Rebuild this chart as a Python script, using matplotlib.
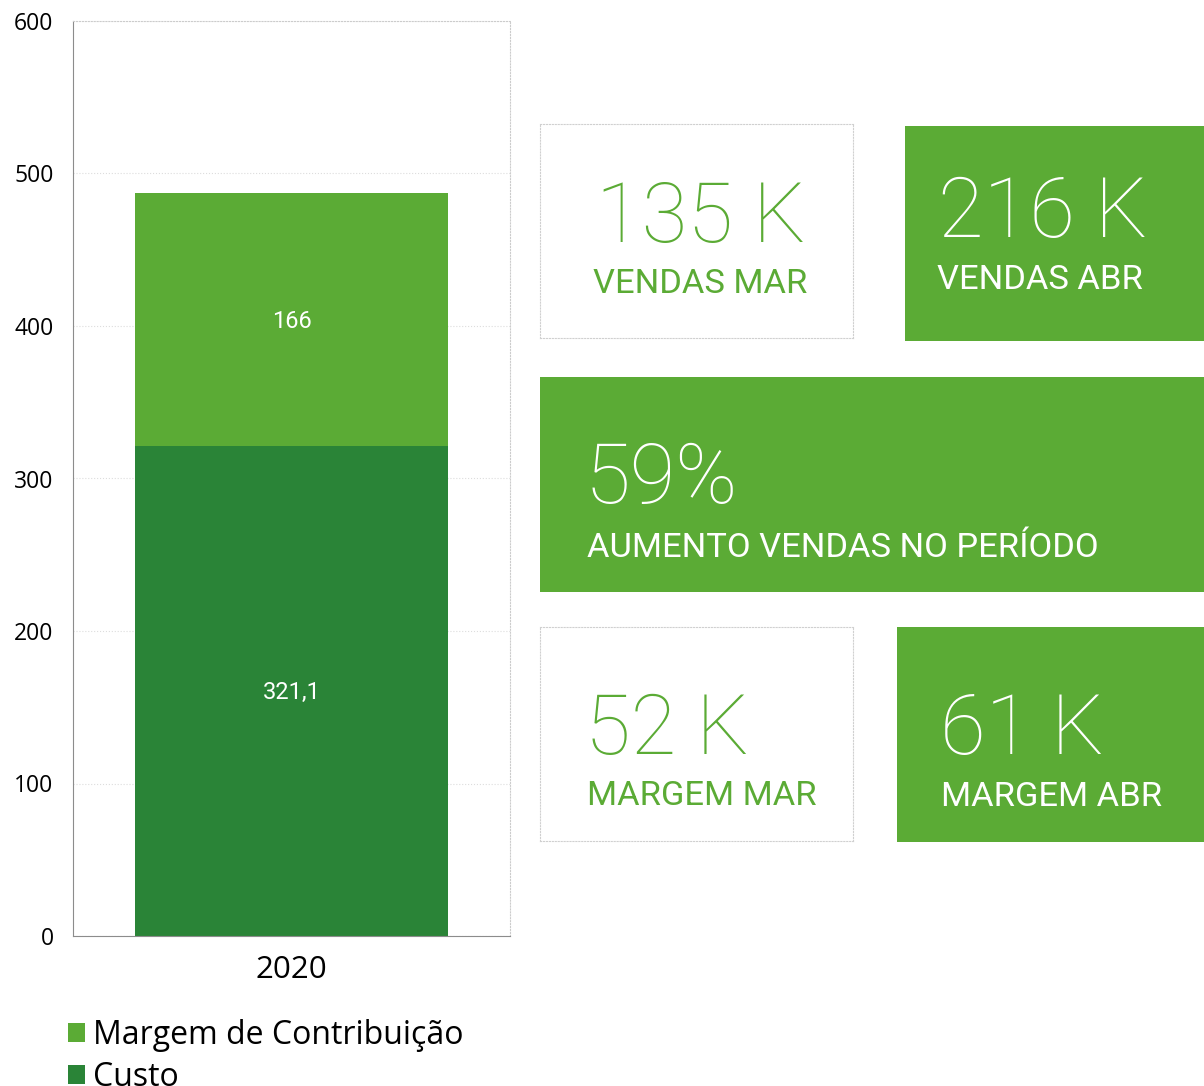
import matplotlib
matplotlib.use("Agg")
import matplotlib.pyplot as plt

# chart data
years = ["2020"]
custo = [321.1]
margem = [166]
custo_labels = ["321,1"]
margem_labels = ["166"]
yticks = [0, 100, 200, 300, 400, 500, 600]

# kpi cards
card_values = ["135 K", "216 K", "59%", "52 K", "61 K"]
card_titles = ["VENDAS MAR", "VENDAS ABR", "AUMENTO VENDAS NO PERÍODO", "MARGEM MAR", "MARGEM ABR"]

LIGHT = "#5BAB35"
DARK = "#2A8437"
W, H = 1204, 1086

fig = plt.figure(figsize=(W / 100, H / 100), dpi=100)
ax = fig.add_axes([73 / W, 1 - 936 / H, 437 / W, 915 / H])

x = range(len(years))
b1 = ax.bar(x, custo, width=0.716, color=DARK, zorder=2)
b2 = ax.bar(x, margem, width=0.716, bottom=custo, color=LIGHT, zorder=2)
for i in x:
    ax.text(i, custo[i] / 2 - 1, custo_labels[i], ha="center", va="center",
            color="white", fontsize=17, family="Roboto")
    ax.text(i, custo[i] + margem[i] / 2 - 1, margem_labels[i], ha="center", va="center",
            color="white", fontsize=17, family="Roboto")

ax.set_xlim(-0.5, 0.5)
ax.set_ylim(0, 600)
ax.set_yticks(yticks)
ax.set_yticklabels([str(t) for t in yticks], family="Open Sans", fontsize=16.5)
ax.set_xticks(list(x))
ax.set_xticklabels(years, family="Open Sans", fontsize=22.5)
ax.tick_params(axis="y", length=0, pad=14)
ax.tick_params(axis="x", length=0, pad=14)
ax.grid(axis="y", color="#dddddd", linestyle=":", linewidth=0.8, zorder=0)
for s in ["left", "bottom"]:
    ax.spines[s].set_color("#8c8c8c")
for s in ["top", "right"]:
    ax.spines[s].set_color("#cccccc")
    ax.spines[s].set_linestyle(":")
    ax.spines[s].set_linewidth(0.8)

fig.legend([b2, b1], ["Margem de Contribuição", "Custo"], loc="upper left",
           bbox_to_anchor=(55 / W, 1 - 1006 / H), frameon=False,
           prop={"family": "Open Sans", "size": 23}, handlelength=0.55,
           handleheight=0.55, handletextpad=0.25, labelspacing=0.28, borderaxespad=0)

# card boxes: (x0, y0, x1, y1, filled, text x, value baseline, title x, title baseline, ha)
cards = [
    (540, 124, 853, 338, False, 0, 242, 0, 293, "center"),
    (905, 126, 1204, 341, True, 938, 237, 937, 289, "left"),
    (540, 377, 1204, 592, True, 585, 503, 587, 557, "left"),
    (540, 627, 853, 841, False, 585, 754, 587, 805, "left"),
    (897, 627, 1204, 842, True, 940, 754, 941, 806, "left"),
]
for (x0, y0, x1, y1, filled, tx, vb, sx, sb, ha), val, title in zip(cards, card_values, card_titles):
    cax = fig.add_axes([x0 / W, 1 - y1 / H, (x1 - x0) / W, (y1 - y0) / H])
    cax.set_xticks([])
    cax.set_yticks([])
    cax.set_xlim(x0, x1)
    cax.set_ylim(y1, y0)
    if filled:
        cax.set_facecolor(LIGHT)
        for s in cax.spines.values():
            s.set_visible(False)
        col = "white"
    else:
        cax.set_facecolor("white")
        for s in cax.spines.values():
            s.set_color("#d0d0d0")
            s.set_linestyle(":")
            s.set_linewidth(0.8)
        col = LIGHT
    if ha == "center":
        tx = sx = (x0 + x1) / 2 + 4
    cax.text(tx, vb, val, ha=ha, va="baseline", color=col, fontsize=60,
             family="Roboto", fontweight="light")
    cax.text(sx, sb, title, ha=ha, va="baseline", color=col, fontsize=24.8,
             family="Roboto", fontweight="normal")

fig.savefig("out.png", dpi=100)
